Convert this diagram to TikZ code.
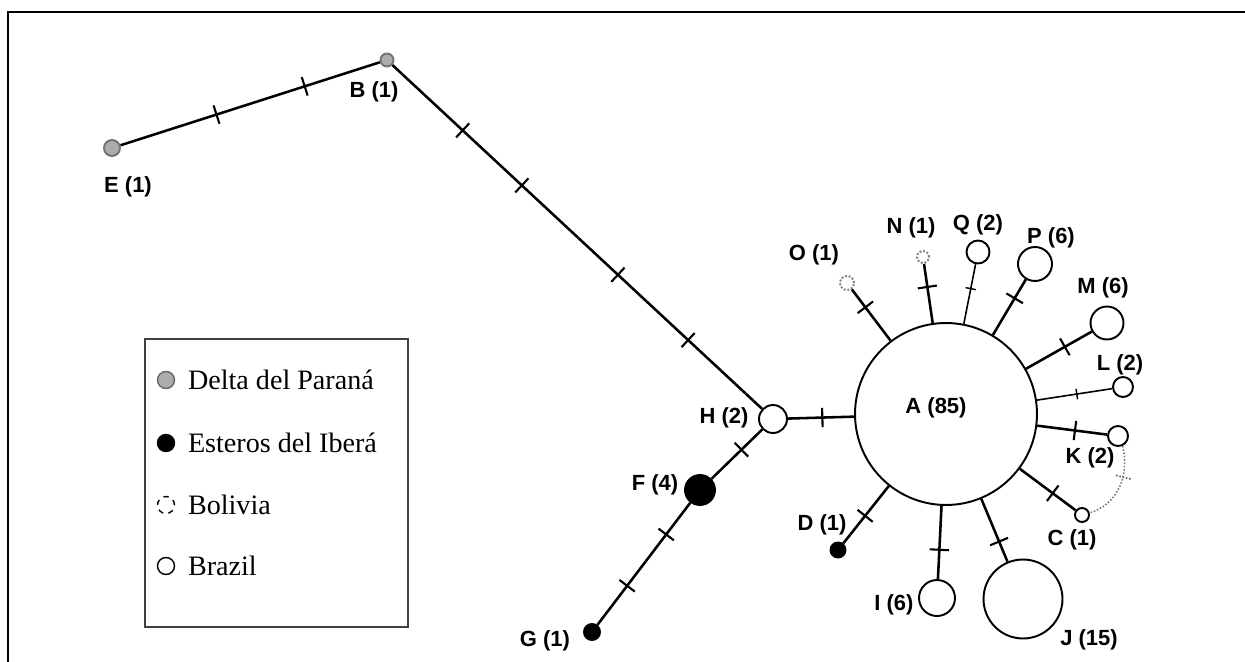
\documentclass[tikz,border=0pt]{standalone}
\usepackage{fontspec}
\setmainfont{Liberation Serif}
\newfontfamily\hapfont{Liberation Sans}
\usetikzlibrary{positioning}
\definecolor{deltagray}{RGB}{172,172,172}
\definecolor{bolgray}{RGB}{125,125,125}
\tikzset{
  hap/.style       = {circle, draw=black, line width=1.1pt, fill=white, inner sep=0pt, minimum size=#1*0.4mm},
  hapdelta/.style  = {hap=#1, fill=deltagray, draw=black!55},
  hapibera/.style  = {hap=#1, fill=black},
  hapbol/.style    = {hap=#1, draw=bolgray, densely dotted},
  hapname/.style   = {font=\hapfont\bfseries\fontsize{12.5}{14}\selectfont, inner sep=0pt},
  link/.style      = {line width=1.45pt},
  thinlink/.style  = {line width=0.9pt},
  bolink/.style    = {line width=0.9pt, bolgray, densely dotted},
  bar/.pic         = {\draw[line width=1.2pt] (0,-5.5pt) -- (0,5.5pt);},
  smallbar/.pic    = {\draw[line width=0.8pt] (0,-3pt) -- (0,3pt);},
  graybar/.pic     = {\draw[line width=1pt, black!60] (0,-4.5pt) -- (0,4.5pt);},
}

\begin{document}
\begin{tikzpicture}[
    x=0.02cm, y=-0.02cm,
    % legend entries
    legsym/.style={circle, inner sep=0pt, minimum size=3.4mm, line width=0.8pt},
    legtext/.style={font=\fontsize{16}{19}\selectfont, inner sep=0pt, anchor=west},
]
\useasboundingbox (0,0) rectangle (1245,662);

% frame
\draw[line width=1.5pt] (8,662) -- (8,12) -- (1245,12);

% ===================== haplotypes =====================
\node[hapdelta=8]   (E) at ( 112, 148) {};
\node[hapdelta=6.5] (B) at ( 387,  60) {};
\node[hap=14]       (H) at ( 773, 419) {};
\node[hapibera=15]  (F) at ( 700, 490) {};
\node[hapibera=8]   (G) at ( 592, 632) {};
\node[hap=91]       (A) at ( 946, 414) {};
\node[hapbol=7]     (O) at ( 847, 283) {};
\node[hapbol=6]     (N) at ( 923, 257) {};
\node[hap=11.5]     (Q) at ( 978, 252) {};
\node[hap=17]       (P) at (1035, 264) {};
\node[hap=16.5]     (M) at (1107, 323) {};
\node[hap=10]       (L) at (1123, 387) {};
\node[hap=10]       (K) at (1118, 436) {};
\node[hap=7]        (C) at (1082, 515) {};
\node[hapibera=7.5] (D) at ( 838, 550) {};
\node[hap=18]       (I) at ( 937, 598) {};
\node[hap=39.5]     (J) at (1023, 599) {};

% names
\node[hapname] (E-lab) at ( 128, 187) {E (1)};
\node[hapname] (B-lab) at ( 374,  92) {B (1)};
\node[hapname] (H-lab) at ( 724, 418) {H (2)};
\node[hapname] (F-lab) at ( 655, 485) {F (4)};
\node[hapname] (G-lab) at ( 545, 641) {G (1)};
\node[hapname] (A-lab) at ( 936, 408) {A (85)};
\node[hapname] (O-lab) at ( 814, 255) {O (1)};
\node[hapname] (N-lab) at ( 911, 228) {N (1)};
\node[hapname] (Q-lab) at ( 978, 225) {Q (2)};
\node[hapname] (P-lab) at (1051, 238) {P (6)};
\node[hapname] (M-lab) at (1103, 288) {M (6)};
\node[hapname] (L-lab) at (1120, 365) {L (2)};
\node[hapname] (K-lab) at (1090, 458) {K (2)};
\node[hapname] (C-lab) at (1072, 540) {C (1)};
\node[hapname] (D-lab) at ( 822, 525) {D (1)};
\node[hapname] (I-lab) at ( 894, 605) {I (6)};
\node[hapname] (J-lab) at (1089, 640) {J (15)};

% ===================== mutational steps =====================
\draw[link] (E) -- (B) pic[pos=.37, sloped]{bar} pic[pos=.71, sloped]{bar};
\draw[link] (B) -- (H) pic[pos=.19, sloped]{bar} pic[pos=.35, sloped]{bar}
                       pic[pos=.61, sloped]{bar} pic[pos=.80, sloped]{bar};
\draw[link] (H) -- (A) pic[pos=.52, sloped]{bar};
\draw[link] (H) -- (F) pic[pos=.41, sloped]{bar};
\draw[link] (F) -- (G) pic[pos=.26, sloped]{bar} pic[pos=.68, sloped]{bar};

\draw[link]     (A) -- (O) pic[pos=.65, sloped]{bar};
\draw[link]     (A) -- (N) pic[pos=.61, sloped]{bar};
\draw[thinlink] (A) -- (Q) pic[pos=.59, sloped]{smallbar};
\draw[link]     (A) -- (P) pic[pos=.66, sloped]{bar};
\draw[link]     (A) -- (M) pic[pos=.59, sloped]{bar};
\draw[thinlink] (A) -- (L) pic[pos=.53, sloped]{smallbar};
\draw[link]     (A) -- (K) pic[pos=.54, sloped]{bar};
\draw[link]     (A) -- (C) pic[pos=.59, sloped]{bar};
\draw[link]     (A) -- (D) pic[pos=.52, sloped]{bar};
\draw[link]     (A) -- (I) pic[pos=.60, sloped]{bar};
\draw[link]     (A) -- (J) pic[pos=.68, sloped]{bar};

% alternative connection K--C
\draw[bolink] (K.-65) .. controls (1130,478) and (1116,505) .. (C.15)
      pic[pos=.35, sloped]{graybar};

% ===================== legend =====================
\draw[line width=0.8pt, black!75] (145,339) rectangle (408,627);

\node[legsym, fill=deltagray, draw=black!60] (k1) at (166,380) {};
\node[legsym, fill=black, draw=black]        (k2) at (166,443) {};
\node[legsym, draw=black, dashed]            (k3) at (166,505) {};
\node[legsym, draw=black]                    (k4) at (166,566) {};

\node[legtext, right=0.25cm of k1] (t1) {Delta del Paraná};
\node[legtext, right=0.25cm of k2] (t2) {Esteros del Iberá};
\node[legtext, right=0.25cm of k3] (t3) {Bolivia};
\node[legtext, right=0.25cm of k4] (t4) {Brazil};

\end{tikzpicture}
\end{document}
